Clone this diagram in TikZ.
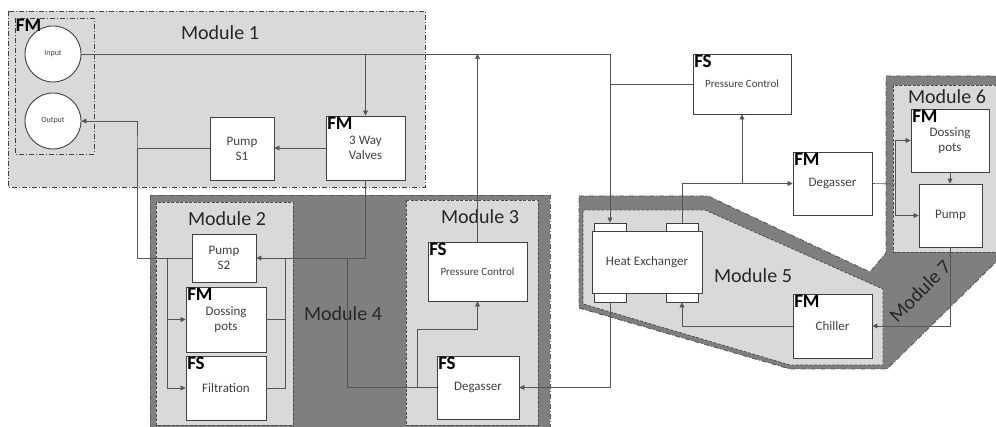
\documentclass[tikz,border=0pt]{standalone}
\usepackage{fontspec}
\setmainfont{Carlito}
\usetikzlibrary{arrows.meta,positioning,calc}
\definecolor{lightbg}{RGB}{217,217,217}
\definecolor{darkbg}{RGB}{127,127,127}
\definecolor{edge}{RGB}{64,64,64}
\definecolor{wirecol}{RGB}{85,85,85}
\definecolor{txt}{RGB}{64,64,64}

\tikzset{
  unit/.style={draw=edge, fill=white, line width=0.9pt, inner sep=0pt, align=center,
    text=txt, font=\fontsize{13}{15}\selectfont},
  sz/.style 2 args={minimum width=#1pt, minimum height=#2pt},
  kind/.style={label={[anchor=north west, inner sep=1.5pt, text=black,
    font=\fontsize{19}{19}\selectfont\bfseries]north west:#1}},
  port/.style={draw=edge, fill=white, line width=0.8pt, inner sep=0pt},
  tank/.style={draw=edge, fill=white, circle, line width=0.9pt, minimum size=56pt,
    text=txt, font=\fontsize{8}{8}\selectfont},
  wire/.style={draw=wirecol, line width=0.6pt},
  flow/.style={wire, -{Triangle[length=5pt,width=5pt]}},
  modlabel/.style={font=\fontsize{20}{20}\selectfont, text=black!85},
  modlight/.style={fill=lightbg, draw=black!70, line width=0.8pt, dash pattern=on 3pt off 1.5pt},
  moddark/.style={fill=darkbg, draw=black!65, line width=0.9pt, dash pattern=on 5pt off 2pt on 1pt off 2pt},
}

\begin{document}
\begin{tikzpicture}[x=1pt,y=-1pt]
  \useasboundingbox (0,0) rectangle (996,427);

  % Module areas
  \draw[fill=lightbg, draw=black!75, line width=0.9pt, dash pattern=on 5pt off 2pt on 1pt off 2pt]
    (8,11) rectangle (425,187);
  \draw[draw=black!75, line width=0.9pt, dash pattern=on 5pt off 2pt on 1pt off 2pt]
    (15,18) rectangle (94,154);
  \draw[moddark] (150,195) rectangle (550,427);
  \draw[modlight] (156,202) rectangle (293,425);
  \draw[modlight] (406,200) rectangle (538,425);
  \draw[moddark] (579,196) -- (708,196) -- (870,272) -- (886,253) -- (886,76) -- (996,76)
    -- (996,262) -- (887,369) -- (790,369) -- (579,308) -- cycle;
  \draw[modlight] (583,210) -- (705,210) -- (883,289) -- (883,365) -- (790,365)
    -- (583,304) -- cycle;
  \draw[modlight] (893,85) rectangle (996,252);

  % Module labels
  \foreach \n/\x/\y in {1/220/33, 2/227/219, 3/480/217, 4/343/314, 5/753/276, 6/947/97}
    \node[modlabel] (mod\n) at (\x,\y) {Module \n};
  \node[modlabel, rotate=45] (mod7) at (920,291) {Module 7};

  % Module 1
  \node[tank] (in) at (53,54) {Input};
  \node[tank] (out) at (53,121) {Output};
  \node[kind=FM, inner sep=0pt] (fm1) at (15,18) {};
  \node[unit, sz={64}{63}] (ps1) at (242,148.5) {Pump\\S1};
  \node[unit, sz={79}{64}, kind=FM] (vlv) at (365.5,148) {3 Way\\Valves};

  % Modules 2 and 3
  \node[unit, sz={64}{48}] (ps2) at (224,258) {Pump\\S2};
  \node[unit, sz={80}{65}, kind=FM] (dos2) at (226,319.5) {Dossing\\pots};
  \node[unit, sz={80}{64}, kind=FS] (filt) at (226,388) {Filtration};
  \node[unit, sz={99}{59}, kind=FS, font=\fontsize{11}{13}\selectfont] (pc3) at (477.5,271.5) {Pressure Control};
  \node[unit, sz={82}{63}, kind=FS] (deg3) at (478,387.5) {Degasser};

  % Right side
  \node[unit, sz={98}{60}, kind=FS, font=\fontsize{11}{13}\selectfont] (pc1) at (742,84) {Pressure Control};
  \node[unit, sz={79}{63}, kind=FM] (deg1) at (832.5,183.5) {Degasser};
  \node[unit, sz={79}{64}, kind=FM] (chl) at (832.5,326) {Chiller};
  \node[unit, sz={78}{63}, kind=FM] (dos6) at (950,140.5) {Dossing\\pots};
  \node[unit, sz={63}{63}] (pmp6) at (950.5,215.5) {Pump};

  % Heat exchanger with ports
  \node[port, sz={32}{8}] (hxtl) at (610,227) {};
  \node[port, sz={32}{8}] (hxtr) at (682,227) {};
  \node[port, sz={32}{9}] (hxbl) at (610,297.5) {};
  \node[port, sz={32}{9}] (hxbr) at (682,297.5) {};
  \node[unit, sz={110}{62}] (hx) at (647,262) {Heat Exchanger};

  % Connections
  \coordinate (ret) at (137,149);
  \coordinate (m2l) at (167,258);
  \coordinate (m2r) at (285,258);
  \coordinate (m4j) at (347,258);
  \coordinate (m3j) at (417,388);
  \coordinate (m6j) at (895,184);
  \draw[flow] (in.east) -| (hxtl.north);
  \draw[flow] (in.east -| vlv.north) -- (vlv.north);
  \draw[wire] (pc1.west) -- (pc1.west -| hxtl.north);
  \draw[flow] (vlv.west) -- (vlv.west -| ps1.east);
  \draw[flow] (ps1.west) -| (ret) |- (out.east);
  \draw[wire] (ps2.west) -| (ret);
  \draw[flow] (m2l) |- (dos2.west);
  \draw[flow] (m2l) |- (filt.west);
  \draw[wire] (dos2.east) -| (m2r);
  \draw[wire] (filt.east) -| (m2r);
  \draw[flow] (vlv.south) |- (ps2.east);
  \draw[wire] (m4j) |- (deg3.west);
  \draw[flow] (m3j) -- ++(0,-59) -| (pc3.south);
  \draw[flow] (pc3.north) -- (pc3.north |- in.east);
  \draw[flow] (hxbl.south) |- (deg3.east);
  \draw[flow] (hxtr.north) |- (deg1.west);
  \draw[flow] (pc1.south |- deg1.west) -- (pc1.south);
  \draw[wire] (deg1.east) -- (m6j);
  \draw[flow] (m6j) |- (dos6.west);
  \draw[flow] (m6j) |- (pmp6.west);
  \draw[flow] (dos6.south) -- (dos6.south |- pmp6.north);
  \draw[flow] (pmp6.south) |- (chl.east);
  \draw[flow] (chl.west) -| (hxbr.south);
\end{tikzpicture}
\end{document}
